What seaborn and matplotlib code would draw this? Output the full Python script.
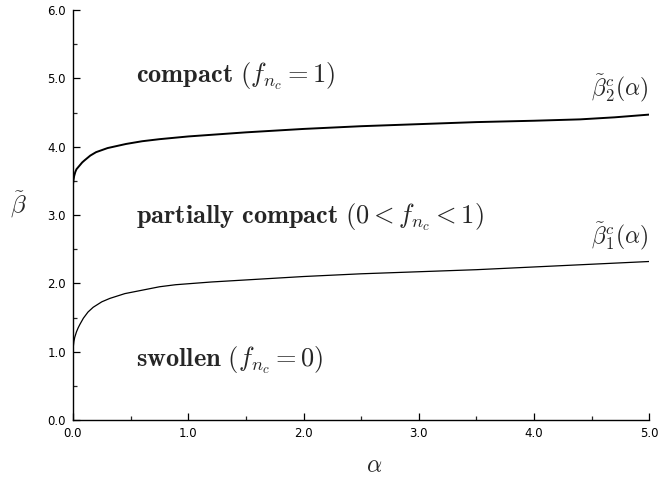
import matplotlib.pyplot as plt
import pandas as pd
import seaborn as sns
from matplotlib.ticker import MultipleLocator

sns.set_theme(style="ticks")
plt.rcParams['mathtext.fontset'] = 'cm'
plt.rcParams['font.family'] = ['DejaVu Sans']

# upper boundary beta_2^c(alpha)
alpha_up = [0.0, 0.005, 0.01, 0.02, 0.03, 0.045, 0.06, 0.08, 0.10, 0.15, 0.20, 0.30, 0.46, 0.6, 0.75, 1.0,
            1.5, 2.0, 2.5, 3.0, 3.5, 4.0, 4.4, 4.7, 5.0]
beta_up = [3.45, 3.52, 3.57, 3.63, 3.67, 3.70, 3.73, 3.77, 3.80, 3.87, 3.92, 3.98, 4.04, 4.08, 4.11, 4.15,
           4.21, 4.26, 4.30, 4.33, 4.36, 4.38, 4.40, 4.43, 4.47]

# lower boundary beta_1^c(alpha)
alpha_lo = [0.0, 0.003, 0.008, 0.015, 0.03, 0.045, 0.06, 0.09, 0.13, 0.175, 0.25, 0.32, 0.45, 0.6, 0.75, 0.89,
            1.2, 1.6, 2.0, 2.5, 3.0, 3.5, 4.0, 4.5, 5.0]
beta_lo = [1.0, 1.08, 1.15, 1.21, 1.29, 1.35, 1.40, 1.49, 1.58, 1.65, 1.73, 1.78, 1.85, 1.90, 1.95, 1.98,
           2.02, 2.06, 2.10, 2.14, 2.17, 2.20, 2.24, 2.28, 2.32]

region_labels = [r'$\mathbf{compact}\ (f_{n_c}=1)$',
                 r'$\mathbf{partially\ compact}\ (0< f_{n_c} <1)$',
                 r'$\mathbf{swollen}\ (f_{n_c}=0)$']
region_y = [5.03, 2.97, 0.88]

curve_labels = [r'$\tilde{\beta}_2^c(\alpha)$', r'$\tilde{\beta}_1^c(\alpha)$']
curve_label_y = [4.86, 2.69]

up_df = pd.DataFrame({'alpha': alpha_up, 'beta': beta_up})
lo_df = pd.DataFrame({'alpha': alpha_lo, 'beta': beta_lo})

fig = plt.figure(figsize=(6.6, 4.78), dpi=100)
ax = fig.add_axes([0.1106, 0.1213, 0.8732, 0.8577])

sns.lineplot(data=up_df, x='alpha', y='beta', ax=ax, color='black', linewidth=1.4)
sns.lineplot(data=lo_df, x='alpha', y='beta', ax=ax, color='black', linewidth=0.9)

ax.set_xlim(0, 5)
ax.set_ylim(0, 6)
ax.xaxis.set_major_locator(MultipleLocator(1.0))
ax.xaxis.set_minor_locator(MultipleLocator(0.5))
ax.yaxis.set_major_locator(MultipleLocator(1.0))
ax.yaxis.set_minor_locator(MultipleLocator(0.5))
ax.xaxis.set_major_formatter(lambda v, p: f'{v:.1f}')
ax.yaxis.set_major_formatter(lambda v, p: f'{v:.1f}')
ax.tick_params(which='major', direction='in', length=5, width=0.9, labelsize=8.5, pad=5, colors='black')
ax.tick_params(which='minor', direction='in', length=3, width=0.9)

sns.despine(ax=ax)
for s in ['left', 'bottom']:
    ax.spines[s].set_linewidth(1.0)
    ax.spines[s].set_color('black')

ax.set_xlabel(r'$\alpha$', fontsize=17)
ax.xaxis.set_label_coords(0.522, -0.08)
ax.set_ylabel(r'$\tilde{\beta}$', fontsize=18, rotation=0, va='center')
ax.yaxis.set_label_coords(-0.095, 0.525)

for txt, yv in zip(region_labels, region_y):
    ax.text(0.55, yv, txt, fontsize=19, va='center', ha='left')

for txt, yv in zip(curve_labels, curve_label_y):
    ax.text(4.99, yv, txt, fontsize=17, va='center', ha='right')

fig.savefig('out.png', dpi=100)
